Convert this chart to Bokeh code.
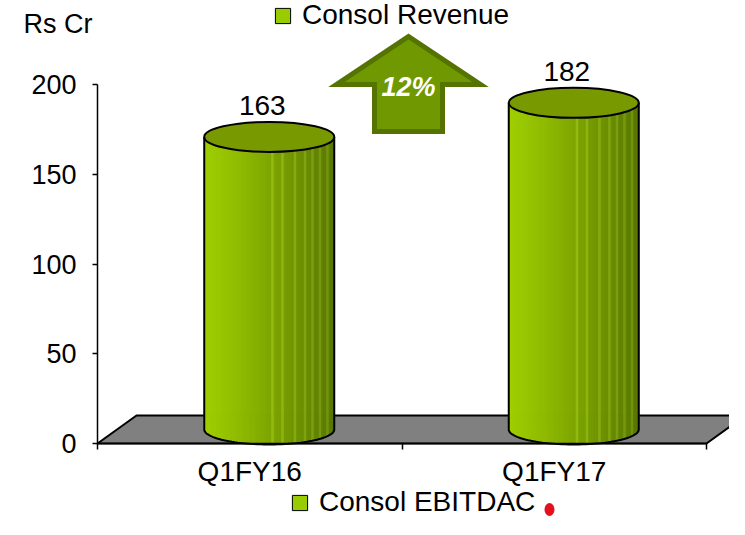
import numpy as np
from bokeh.plotting import figure
from bokeh.models import Range1d, LinearAxis, FixedTicker, Legend, LegendItem, Label
from bokeh.embed import file_html
from bokeh.resources import INLINE
from bokeh.core.properties import value

# ---------------- data ----------------
categories = ["Q1FY16", "Q1FY17"]
revenue = [163, 182]
y_ticks = [0, 50, 100, 150, 200]
unit_label = "Rs Cr"
legend_top = "Consol Revenue"
legend_bottom = "Consol EBITDAC"

# ---------------- layout (pixels) ----------------
W, H = 729, 519
AX_LEFT_PX, AX_RIGHT_PX = 97, 706      # x-axis extent in canvas px
AX_ZERO_PX = 443                        # y pixel (from top) of value 0
PX_PER_Y = (AX_ZERO_PX - 84) / 200.0
n = len(categories)
PX_PER_X = (AX_RIGHT_PX - AX_LEFT_PX) / n
AX_MID_PX = (AX_LEFT_PX + AX_RIGHT_PX) / 2

def dx(px):
    return px / PX_PER_X

def dy(px):
    return px / PX_PER_Y

FONT = "Liberation Sans"
FS = "27px"
FS_L = "28px"

p = figure(width=W, height=H,
           x_range=Range1d(-dx(AX_LEFT_PX), n + dx(W - AX_RIGHT_PX)),
           y_range=Range1d(-dy(H - AX_ZERO_PX), dy(AX_ZERO_PX)),
           x_axis_type=None, y_axis_type=None,
           output_backend="svg", toolbar_location=None, min_border=0)
p.outline_line_color = None
p.background_fill_color = "white"
p.border_fill_color = "white"

# ---------------- 3D floor ----------------
DEPTH_X, DEPTH_Y = dx(39), dy(28)
p.patch([0, n, n + DEPTH_X, DEPTH_X], [0, 0, DEPTH_Y, DEPTH_Y],
        fill_color="#808080", line_color="black", line_width=2)

# ---------------- cylinders ----------------
CYL_W = dx(130)
ELL_H = dy(30)
a, b = CYL_W / 2, ELL_H / 2
N_STRIPS = 52
light = np.array([158, 206, 0])
dark = np.array([88, 118, 0])
streaks = {27, 31, 36, 40, 43, 46, 49}

strip_xs, strip_ys, strip_cols = [], [], []
out_xs, out_ys = [], []
top_x, top_y = [], []
for i, v in enumerate(revenue):
    cx = i + 0.5 + DEPTH_X / 2
    base = DEPTH_Y / 2
    top = v + DEPTH_Y / 2
    edges = np.linspace(cx - a, cx + a, N_STRIPS + 1)
    for k in range(N_STRIPS):
        xl, xr = edges[k], edges[k + 1]
        t = (k + 0.5) / N_STRIPS
        c = light + (dark - light) * (t ** 1.15)
        if k in streaks:
            c = np.minimum(c + np.array([22, 24, 14]), 255)
        yl = base - b * np.sqrt(max(0.0, 1 - ((xl - cx) / a) ** 2))
        yr = base - b * np.sqrt(max(0.0, 1 - ((xr - cx) / a) ** 2))
        strip_xs.append([xl, xr, xr, xl])
        strip_ys.append([top, top, yr, yl])
        strip_cols.append("#%02x%02x%02x" % tuple(int(round(q)) for q in c))
    th = np.linspace(np.pi, 2 * np.pi, 60)
    ox = [cx - a] + list(cx + a * np.cos(th)) + [cx + a]
    oy = [top] + list(base + b * np.sin(th)) + [top]
    out_xs.append(ox)
    out_ys.append(oy)
    top_x.append(cx)
    top_y.append(top)

p.patches(strip_xs, strip_ys, fill_color=strip_cols, line_color=strip_cols, line_width=1)
p.multi_line(out_xs, out_ys, line_color="black", line_width=2)
p.ellipse(x=top_x, y=top_y, width=CYL_W, height=ELL_H,
          fill_color="#789900", line_color="black", line_width=2)

# value labels
p.text(x=top_x, y=top_y, text=[str(v) for v in revenue],
       text_font=value(FONT), text_font_size=FS_L, text_color="black",
       text_align="center", text_baseline="alphabetic",
       x_offset=-7, y_offset=-31)

# ---------------- growth arrow ----------------
pct = round((revenue[1] - revenue[0]) / revenue[0] * 100)
amid = n / 2 + dx(408 - AX_MID_PX)
a_bot, a_neck, a_tip = dy(AX_ZERO_PX - 131), dy(AX_ZERO_PX - 84), dy(AX_ZERO_PX - 36)
hw_wing, hw_shaft = dx(72), dx(34)
p.patch([amid - hw_shaft, amid - hw_shaft, amid - hw_wing, amid, amid + hw_wing, amid + hw_shaft, amid + hw_shaft],
        [a_bot, a_neck, a_neck, a_tip, a_neck, a_neck, a_bot],
        fill_color="#709800", line_color="#557300", line_width=5, line_join="miter")
p.text(x=[amid], y=[dy(AX_ZERO_PX - 86)], text=[f"{pct}%"],
       text_font=value(FONT), text_font_size="27px", text_font_style="bold italic",
       text_color="white", text_align="center", text_baseline="middle")

# ---------------- axes ----------------
yaxis = LinearAxis(ticker=FixedTicker(ticks=y_ticks), bounds=(y_ticks[0], y_ticks[-1]), fixed_location=0)
yaxis.axis_line_width = 1.5
yaxis.major_tick_line_width = 1.5
yaxis.major_tick_in = 0
yaxis.major_tick_out = 5
yaxis.minor_tick_line_color = None
yaxis.major_label_text_font = FONT
yaxis.major_label_text_font_size = FS
yaxis.major_label_text_color = "black"
yaxis.major_label_standoff = 16
p.add_layout(yaxis, "left")

xaxis = LinearAxis(ticker=FixedTicker(ticks=[i + 0.5 for i in range(n)], minor_ticks=list(range(n + 1))),
                   bounds=(0, n), fixed_location=0,
                   major_label_overrides={i + 0.5: c for i, c in enumerate(categories)})
xaxis.axis_line_width = 1.5
xaxis.major_tick_line_color = None
xaxis.major_tick_in = 0
xaxis.major_tick_out = 0
xaxis.minor_tick_in = 0
xaxis.minor_tick_out = 6
xaxis.minor_tick_line_width = 1.5
xaxis.minor_tick_line_color = "black"
xaxis.major_label_text_font = FONT
xaxis.major_label_text_font_size = FS_L
xaxis.major_label_text_color = "black"
xaxis.major_label_standoff = 6
p.add_layout(xaxis, "below")

# ---------------- legends ----------------
nan = float("nan")
r_top = p.quad(left=[nan], right=[nan], top=[nan], bottom=[nan],
               fill_color="#99cc00", line_color="black", line_width=1)
r_bot = p.quad(left=[nan], right=[nan], top=[nan], bottom=[nan],
               fill_color="#99cc00", line_color="black", line_width=1)

def make_legend(label, rend, left_px, center_px):
    lg = Legend(items=[LegendItem(label=label, renderers=[rend])],
                location=(left_px, H - (center_px + 16)),
                glyph_width=19, glyph_height=19, label_standoff=10,
                label_text_font=FONT, label_text_font_size=FS_L, label_text_color="black",
                padding=0, margin=0, spacing=0, border_line_color=None,
                background_fill_alpha=0)
    p.add_layout(lg, "center")

make_legend(legend_top, r_top, 273, 15)
make_legend(legend_bottom, r_bot, 290, 502)

# red marker next to the bottom legend
p.ellipse(x=[dx(549 - AX_LEFT_PX)], y=[-dy(509 - AX_ZERO_PX)], width=dx(10), height=dy(13),
          fill_color="#e60f1e", line_color=None)

# unit label
p.add_layout(Label(x=23, y=H - 23, x_units="screen", y_units="screen", text=unit_label,
                   text_font=FONT, text_font_size=FS, text_color="black",
                   text_baseline="middle", text_align="left"))

open("out.html", "w").write(file_html(p, INLINE))
